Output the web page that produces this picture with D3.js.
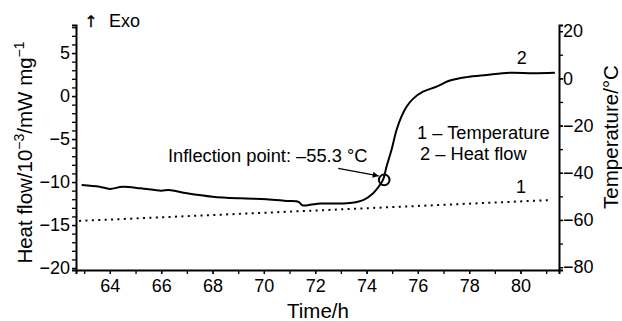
<!DOCTYPE html>
<html>
<head>
<meta charset="utf-8">
<script src="https://cdn.jsdelivr.net/npm/d3@7"></script>
<style>
  body { margin: 0; background: #fff; }
  svg { display: block; font-family: "Liberation Sans", Arial, sans-serif; }
  .axis path, .axis line { stroke: #000; }
  .axis text { font-size: 18px; fill: #000; }
</style>
</head>
<body>
<svg id="chart" width="622" height="321"></svg>
<script>
// heat flow curve (2), time in h, heat flow in 10^-3 mW/mg
var heatTime = [62.9, 63.6, 64.0, 64.5, 65.2, 66.0, 66.3, 67.0, 68.0, 69.1, 70.1, 70.9,
                71.35, 71.5, 71.8, 72.2, 73.0, 73.35, 73.87, 74.26, 74.52, 74.65, 74.78,
                74.97, 75.17, 75.36, 75.56, 75.82, 76.2, 76.73, 77.25, 77.9, 78.67, 79.58,
                80.49, 81.34];
var heatFlow = [-10.35, -10.55, -10.8, -10.55, -10.73, -11.0, -10.93, -11.3, -11.7, -11.9, -12.0, -12.2,
                -12.3, -12.7, -12.65, -12.5, -12.5, -12.45, -12.1, -11.3, -10.35, -9.7, -8.2,
                -6.3, -3.95, -2.4, -1.25, -0.3, 0.5, 1.1, 1.8, 2.2, 2.45, 2.7,
                2.65, 2.7];

// temperature curve (1), degC
var tempTime = [62.8, 72.0, 81.1];
var tempVals = [-60.4, -56.0, -51.6];

// inflection point
var inflTime = 74.69, inflFlow = -9.75;

var xTicks = [64, 66, 68, 70, 72, 74, 76, 78, 80];
var yLeftTicks = [-20, -15, -10, -5, 0, 5];
var yRightTicks = [-80, -60, -40, -20, 0, 20];

var svg = d3.select("#chart");
var pL = 76, pR = 559, pT = 25, pB = 270;

var x = d3.scaleLinear().domain([62.68, 81.5]).range([pL, pR]);
var yL = d3.scaleLinear().domain([-20.23, 8.26]).range([pB, pT]);
var yR = d3.scaleLinear().domain([-81.2, 22.6]).range([pB, pT]);

// minor ticks
var xMinor = d3.range(63, 82, 1);
var yLMinor = d3.range(-20, 9, 1);
var yRMinor = d3.range(-80, 21, 10);

function styleAxis(g) {
    g.attr("class", "axis");
    g.select(".domain").attr("stroke-width", 2);
    g.selectAll(".tick line").attr("stroke-width", 1.3);
}
function minus(d) { return d < 0 ? "\u2212" + (-d) : d; }

// bottom axis: minor ticks then labels
svg.append("g").attr("transform", "translate(0," + pB + ")")
    .call(d3.axisBottom(x).tickValues(xMinor).tickSize(4).tickFormat(""))
    .call(styleAxis);
svg.append("g").attr("transform", "translate(0," + pB + ")")
    .call(d3.axisBottom(x).tickValues(xTicks).tickSize(4).tickPadding(5).tickFormat(d3.format("d")))
    .call(styleAxis)
    .call(function(g) { g.select(".domain").remove(); });

// left axis
svg.append("g").attr("transform", "translate(" + pL + ",0)")
    .call(d3.axisLeft(yL).tickValues(yLMinor).tickSize(4).tickFormat(""))
    .call(styleAxis);
svg.append("g").attr("transform", "translate(" + pL + ",0)")
    .call(d3.axisLeft(yL).tickValues(yLeftTicks).tickSize(4).tickPadding(2).tickFormat(minus))
    .call(styleAxis)
    .call(function(g) { g.select(".domain").remove(); });

// right axis
svg.append("g").attr("transform", "translate(" + pR + ",0)")
    .call(d3.axisRight(yR).tickValues(yRMinor).tickSize(4).tickFormat(""))
    .call(styleAxis);
svg.append("g").attr("transform", "translate(" + pR + ",0)")
    .call(d3.axisRight(yR).tickValues(yRightTicks).tickSize(4).tickPadding(0).tickFormat(minus))
    .call(styleAxis)
    .call(function(g) { g.select(".domain").remove(); });

// temperature dotted line
var tempData = tempTime.map(function(t, i) { return [t, tempVals[i]]; });
svg.append("path")
    .datum(tempData)
    .attr("fill", "none")
    .attr("stroke", "#000")
    .attr("stroke-width", 2)
    .attr("stroke-dasharray", "2,4.4")
    .attr("d", d3.line().x(function(d) { return x(d[0]); }).y(function(d) { return yR(d[1]); }));

// heat flow line
var heatData = heatTime.map(function(t, i) { return [t, heatFlow[i]]; });
svg.append("path")
    .datum(heatData)
    .attr("fill", "none")
    .attr("stroke", "#000")
    .attr("stroke-width", 2)
    .attr("stroke-linejoin", "round")
    .attr("d", d3.line().curve(d3.curveCatmullRom.alpha(0.5))
          .x(function(d) { return x(d[0]); }).y(function(d) { return yL(d[1]); }));

// inflection circle + arrow
var cx = x(inflTime), cy = yL(inflFlow);
svg.append("circle")
    .attr("cx", cx).attr("cy", cy).attr("r", 5.3)
    .attr("fill", "none").attr("stroke", "#000").attr("stroke-width", 2);

svg.append("defs").append("marker")
    .attr("id", "arr").attr("viewBox", "0 0 10 10")
    .attr("refX", 10).attr("refY", 5)
    .attr("markerWidth", 8).attr("markerHeight", 6)
    .attr("orient", "auto").attr("markerUnits", "userSpaceOnUse")
    .append("path").attr("d", "M0,0 L10,5 L0,10 z").attr("fill", "#000");

svg.append("line")
    .attr("x1", cx - 46).attr("y1", cy - 11.5)
    .attr("x2", cx - 5.5).attr("y2", cy - 4)
    .attr("stroke", "#000").attr("stroke-width", 1.2)
    .attr("marker-end", "url(#arr)");

function txt(xp, yp, s, size, anchor) {
    return svg.append("text")
        .attr("x", xp).attr("y", yp)
        .attr("font-size", size)
        .attr("text-anchor", anchor || "start")
        .attr("fill", "#000")
        .text(s);
}

txt(168, 161.5, "Inflection point: \u201355.3 \u00b0C", 18.3);
txt(417, 138.5, "1 \u2013 Temperature", 18.3);
txt(420, 160, "2 \u2013 Heat flow", 18.3);
txt(x(80.05), 63.5, "2", 18, "middle");
txt(x(80.02), 192.7, "1", 18, "middle");

// Exo marker
txt(91, 27, "\u2191", 16, "middle")
    .attr("font-family", "DejaVu Sans")
    .attr("stroke", "#000").attr("stroke-width", 0.3);
txt(109, 27, "Exo", 18);

// axis titles
txt(318, 317.5, "Time/h", 20.5, "middle");

var lt = svg.append("text")
    .attr("transform", "translate(31.5,152.5) rotate(-90)")
    .attr("text-anchor", "middle")
    .attr("font-size", 20.5)
    .attr("fill", "#000");
lt.append("tspan").text("Heat flow/10");
lt.append("tspan").attr("font-size", 14).attr("dy", -8).text("\u22123");
lt.append("tspan").attr("dy", 8).text("/mW mg");
lt.append("tspan").attr("font-size", 14).attr("dy", -8).text("\u22121");

svg.append("text")
    .attr("transform", "translate(618,137) rotate(-90)")
    .attr("text-anchor", "middle")
    .attr("font-size", 20.5)
    .attr("fill", "#000")
    .text("Temperature/\u00b0C");
</script>
</body>
</html>
